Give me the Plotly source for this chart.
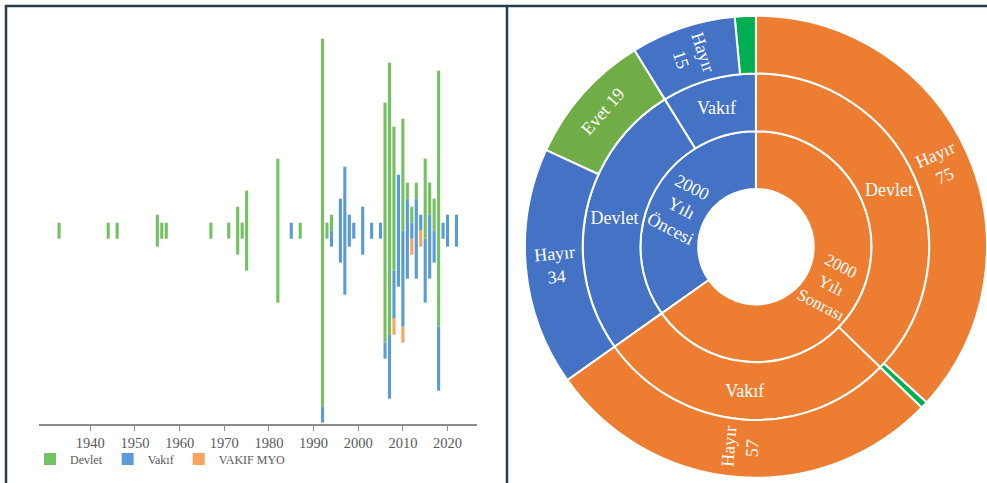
import plotly.graph_objects as go

# ---------------- Left chart data ----------------
years = [1933, 1944, 1946, 1955, 1956, 1957, 1967, 1971, 1973, 1974, 1975, 1982,
         1985, 1987, 1992, 1993, 1994, 1996, 1997, 1998, 1999, 2001, 2003, 2005,
         2006, 2007, 2008, 2009, 2010, 2011, 2012, 2013, 2014, 2015, 2016, 2017,
         2018, 2019, 2020, 2022]
devlet = [1, 1, 1, 2, 1, 1, 1, 1, 3, 1, 5, 9,
          0, 1, 23, 1, 1, 0, 0, 0, 0, 0, 0, 0,
          15, 17, 9, 0, 7, 1, 1, 1, 0, 5, 2, 2,
          16, 0, 0, 0]
vakif = [0, 0, 0, 0, 0, 0, 0, 0, 0, 0, 0, 0,
         1, 0, 1, 0, 1, 4, 8, 2, 1, 3, 1, 1,
         1, 4, 3, 7, 6, 5, 1, 5, 1, 4, 4, 2,
         4, 1, 2, 2]
vakif_myo = [0, 0, 0, 0, 0, 0, 0, 0, 0, 0, 0, 0,
             0, 0, 0, 0, 0, 0, 0, 0, 0, 0, 0, 0,
             0, 0, 1, 0, 1, 0, 1, 0, 1, 0, 0, 0,
             0, 0, 0, 0]
series_names = ["Devlet", "Vakıf", "VAKIF MYO"]
tick_years = [1940, 1950, 1960, 1970, 1980, 1990, 2000, 2010, 2020]

# ---------------- Sunburst data ----------------
sb_ids = ["root", "once", "sonra",
          "once/Vakif", "once/Devlet", "sonra/Vakif", "sonra/Devlet",
          "once/Vakif/Evet", "once/Vakif/Hayir", "once/Devlet/Evet", "once/Devlet/Hayir",
          "sonra/Vakif/Hayir", "sonra/Devlet/Evet", "sonra/Devlet/Hayir"]
sb_parents = ["", "root", "root",
              "once", "once", "sonra", "sonra",
              "once/Vakif", "once/Vakif", "once/Devlet", "once/Devlet",
              "sonra/Vakif", "sonra/Devlet", "sonra/Devlet"]
sb_labels = ["", "2000 Yılı Öncesi", "2000 Yılı Sonrası",
             "Vakıf", "Devlet", "Vakıf", "Devlet",
             "Evet", "Hayır", "Evet", "Hayır",
             "Hayır", "Evet", "Hayır"]
sb_values = [204, 71, 133,
             18, 53, 57, 76,
             3, 15, 19, 34,
             57, 1, 75]
sb_text = ["", "2000<br>Yılı<br>Öncesi", "2000<br>Yılı<br>Sonrası",
           "Vakıf", "Devlet", "Vakıf", "Devlet",
           "", "Hayır<br>15", "Evet 19", "Hayır<br>34",
           "Hayır<br>57", "", "Hayır<br>75"]
BLUE, ORANGE, GREEN, BGREEN = "#4472C4", "#ED7D31", "#70AD47", "#00B050"
sb_colors = ["#FFFFFF", BLUE, ORANGE,
             BLUE, BLUE, ORANGE, ORANGE,
             BGREEN, BLUE, GREEN, BLUE,
             ORANGE, BGREEN, ORANGE]

# ---------------- Build figure ----------------
fig = go.Figure()

totals = [d + v + m for d, v, m in zip(devlet, vakif, vakif_myo)]
base_myo = [-t / 2 for t in totals]
base_vakif = [b + m for b, m in zip(base_myo, vakif_myo)]
base_devlet = [b + v for b, v in zip(base_vakif, vakif)]

bar_colors = ["#74C162", "#5B9BD5", "#F9A45E"]
for name, vals, base, col in [(series_names[0], devlet, base_devlet, bar_colors[0]),
                              (series_names[1], vakif, base_vakif, bar_colors[1]),
                              (series_names[2], vakif_myo, base_myo, bar_colors[2])]:
    fig.add_trace(go.Bar(x=years, y=vals, base=base, name=name,
                         marker=dict(color=col, line=dict(width=0)),
                         width=0.7, xaxis="x", yaxis="y"))

fig.add_trace(go.Sunburst(
    ids=sb_ids, parents=sb_parents, labels=sb_labels, values=sb_values,
    branchvalues="total", sort=False, rotation=90,
    text=sb_text, textinfo="text", insidetextorientation="auto",
    marker=dict(colors=sb_colors, line=dict(color="white", width=2)),
    leaf=dict(opacity=1),
    textfont=dict(family="Liberation Serif", size=18, color="white"),
    domain=dict(x=[0.5318, 1.0], y=[0.011, 0.9675]),
))

frame_col = "#263E4C"
shapes = [
    dict(type="line", xref="paper", yref="paper", x0=5 / 987, x1=1, y0=1 - 6 / 483, y1=1 - 6 / 483,
         line=dict(color=frame_col, width=2.5)),
    dict(type="line", xref="paper", yref="paper", x0=6 / 987, x1=6 / 987, y0=0, y1=1 - 5 / 483,
         line=dict(color=frame_col, width=2.5)),
    dict(type="line", xref="paper", yref="paper", x0=507 / 987, x1=507 / 987, y0=0, y1=1 - 5 / 483,
         line=dict(color=frame_col, width=2.5)),
]

fig.update_layout(
    width=987, height=483,
    margin=dict(l=0, r=0, t=0, b=0),
    paper_bgcolor="white", plot_bgcolor="white",
    barmode="overlay",
    font=dict(family="Liberation Serif", color="#595959"),
    xaxis=dict(domain=[39 / 987, 477 / 987], range=[1928.5, 2026.6],
               tickvals=tick_years, ticks="outside", ticklen=5, tickcolor="#8C8C8C",
               showline=True, linecolor="#8C8C8C", linewidth=1.5, showgrid=False,
               zeroline=False, tickfont=dict(size=14.5, color="#595959")),
    yaxis=dict(domain=[1 - 424 / 483, 1 - 20 / 483], range=[-12.08, 13.17],
               visible=False, showgrid=False, zeroline=False),
    legend=dict(orientation="h", x=30 / 987, xanchor="left", y=1 - 459 / 483, yanchor="middle",
                font=dict(size=12, color="#595959"),
                bgcolor="rgba(0,0,0,0)"),
    shapes=shapes,
)

fig.write_html("out.html", config={"displayModeBar": False},
               post_script="document.body.style.margin='0';")
